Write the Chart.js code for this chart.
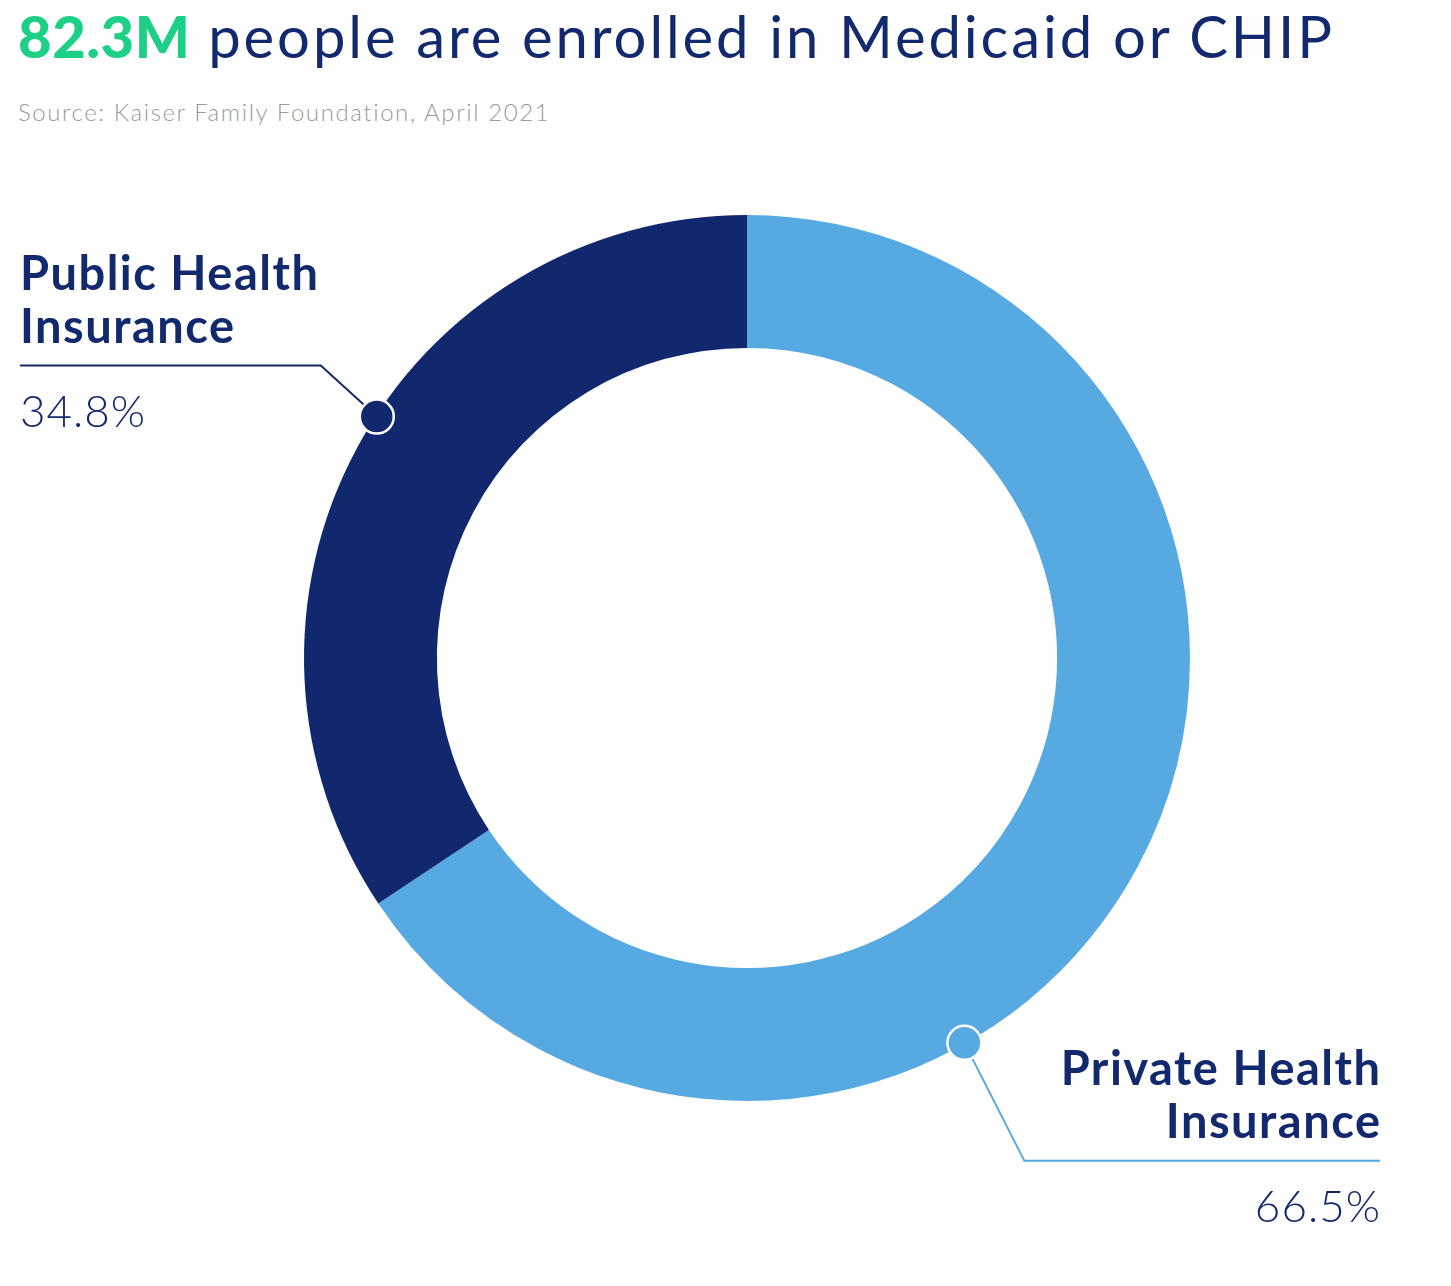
<!DOCTYPE html>
<html>
<head>
<meta charset="utf-8">
<script src="https://cdn.jsdelivr.net/npm/chart.js@4.4.0/dist/chart.umd.min.js"></script>
<style>
  html, body { margin: 0; padding: 0; background: #fff; }
  body { width: 1451px; height: 1286px; position: relative; overflow: hidden; font-family: Lato, "Open Sans", sans-serif; }
  .title { position: absolute; left: 18px; top: 1px; font-size: 58px; color: #13296e; white-space: nowrap; letter-spacing: 2.9px; }
  .title b { color: #1ecf88; font-weight: 900; letter-spacing: 0.5px; }
  .source { position: absolute; left: 18px; top: 97px; font-size: 24px; color: #9a9a9a; font-weight: 300; letter-spacing: 1.6px; }
  #wrap { position: absolute; left: 0; top: 0; width: 1451px; height: 1286px; }
</style>
</head>
<body>
<div class="title"><b>82.3M</b> people are enrolled in Medicaid or CHIP</div>
<div class="source">Source: Kaiser Family Foundation, April 2021</div>
<div id="wrap"><canvas id="donut"></canvas></div>
<script>
const categories = ["Private Health Insurance", "Public Health Insurance"];
const labelLines = [["Private Health", "Insurance"], ["Public Health", "Insurance"]];
const shares = [66.5, 34.8];
const shareLabels = ["66.5%", "34.8%"];
const colors = ["#56a9e1", "#11286f"];

// where each callout sits along its slice, and which side its text goes
const callouts = [
  { at: 0.637, side: "right", elbow: [60, 118], edge: 1380, lineColor: "#56a9e1" },
  { at: 0.54, side: "left", elbow: [-56, -51], edge: 20, lineColor: "#13296e" }
];

const calloutPlugin = {
  id: "callouts",
  afterDatasetsDraw(chart) {
    const ctx = chart.ctx;
    const arcs = chart.getDatasetMeta(0).data;
    arcs.forEach((arc, i) => {
      const c = callouts[i];
      const p = arc.getProps(["x", "y", "startAngle", "endAngle", "outerRadius"], true);
      const a = p.startAngle + (p.endAngle - p.startAngle) * c.at;
      const mx = p.x + Math.cos(a) * (p.outerRadius - 1);
      const my = p.y + Math.sin(a) * (p.outerRadius - 1);
      const ex = mx + c.elbow[0];
      const ey = my + c.elbow[1];

      ctx.save();
      ctx.strokeStyle = c.lineColor;
      ctx.lineWidth = 2;
      ctx.beginPath();
      ctx.moveTo(mx, my);
      ctx.lineTo(ex, ey);
      ctx.lineTo(c.edge, ey);
      ctx.stroke();

      ctx.beginPath();
      ctx.arc(mx, my, 17, 0, Math.PI * 2);
      ctx.fillStyle = colors[i];
      ctx.fill();
      ctx.lineWidth = 2.5;
      ctx.strokeStyle = "#ffffff";
      ctx.stroke();

      ctx.fillStyle = "#13296e";
      ctx.textAlign = c.side === "left" ? "left" : "right";
      ctx.textBaseline = "alphabetic";
      // right aligned text with letterSpacing gets a trailing gap, shift it back
      const shift = c.side === "left" ? 0 : 1;
      ctx.font = "bold 47px Lato, 'Open Sans', sans-serif";
      ctx.letterSpacing = "1.5px";
      ctx.fillText(labelLines[i][0], c.edge + shift * 1.5, ey - 76);
      ctx.fillText(labelLines[i][1], c.edge + shift * 1.5, ey - 23);
      ctx.font = "300 44px Lato, 'Open Sans', sans-serif";
      ctx.letterSpacing = "1px";
      ctx.fillText(shareLabels[i], c.edge + shift, ey + 61);
      ctx.restore();
    });
  }
};

new Chart(document.getElementById("donut"), {
  type: "doughnut",
  data: {
    labels: categories,
    datasets: [{
      data: shares,
      backgroundColor: colors,
      borderWidth: 0
    }]
  },
  options: {
    responsive: true,
    maintainAspectRatio: false,
    animation: false,
    cutout: "70%",
    layout: { padding: { left: 304, right: 261, top: 215, bottom: 185 } },
    plugins: {
      legend: { display: false },
      tooltip: { enabled: false }
    }
  },
  plugins: [calloutPlugin]
});
</script>
</body>
</html>
